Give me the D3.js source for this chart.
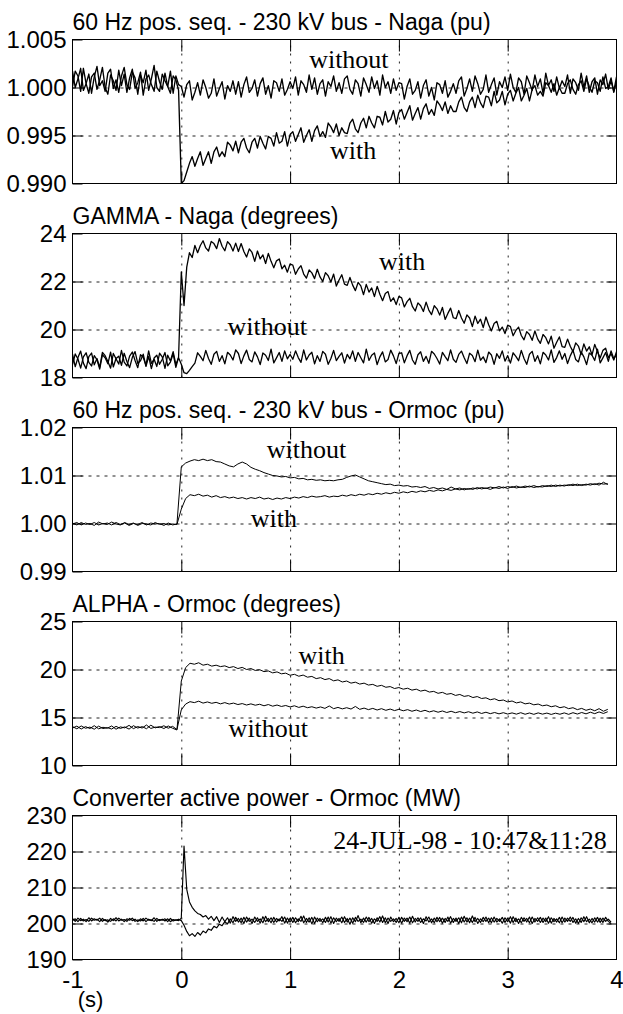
<!DOCTYPE html>
<html>
<head>
<meta charset="utf-8">
<script src="https://cdn.jsdelivr.net/npm/d3@7"></script>
<style>
  body { margin: 0; background: #fff; }
  svg { display: block; }
  .title { font-family: "Liberation Sans", Arial, sans-serif; font-size: 23px; fill: #000; }
  .axis text { font-family: "Liberation Sans", Arial, sans-serif; font-size: 24px; fill: #000; }
  .note { font-family: "Liberation Serif", "Times New Roman", serif; font-size: 26px; fill: #000; }
</style>
</head>
<body>
<script>
// time axis (s): every trace starts at -1 s, sampled at a fixed step
const T_START = -1;
const timeTicks = [-1, 0, 1, 2, 3, 4];

// 60 Hz pos. seq. - 230 kV bus - Naga (pu), step 0.025 s
const nagaTicks = [0.990, 0.995, 1.000, 1.005];
const nagaWithout = [
  1.0017, 1.0000, 1.0009, 1.0020, 0.9997, 1.0004, 1.0014, 0.9994, 1.0011, 1.0022,
  1.0002, 1.0007, 0.9996, 1.0015, 1.0019, 0.9999, 1.0008, 0.9995, 1.0012, 1.0021,
  1.0003, 0.9998, 1.0016, 1.0010, 0.9993, 1.0013, 1.0005, 1.0018, 0.9997, 1.0009,
  1.0023, 1.0000, 0.9996, 1.0014, 1.0007, 1.0001, 1.0017, 0.9994, 1.0012, 1.0003,
  1.0001,
  0.9990, 1.0003, 1.0007, 0.9987, 0.9995, 1.0005, 0.9992, 1.0008, 1.0000, 0.9989, 0.9994, 1.0009, 0.9991, 0.9999, 1.0006, 0.9988, 1.0002, 0.9996, 1.0007, 0.9993,
  1.0006, 0.9990, 1.0003, 1.0011, 0.9995, 0.9999, 1.0008, 0.9991, 1.0004, 1.0010, 0.9993, 1.0002, 0.9989, 1.0007, 1.0005, 0.9996, 1.0009, 0.9992, 0.9998, 1.0006,
  0.9999, 1.0011, 0.9992, 1.0007, 1.0003, 0.9995, 1.0013, 0.9998, 1.0010, 0.9993, 1.0004, 1.0008, 0.9991, 1.0006, 1.0001, 1.0012, 0.9996, 1.0005, 0.9994, 1.0009,
  1.0012, 0.9998, 0.9993, 1.0008, 1.0004, 0.9991, 1.0010, 1.0003, 0.9995, 1.0011, 0.9999, 1.0007, 0.9992, 1.0013, 1.0000, 1.0006, 0.9994, 1.0009, 0.9997, 1.0005,
  1.0004, 0.9988, 1.0001, 1.0009, 0.9993, 0.9997, 1.0006, 0.9989, 1.0002, 1.0008, 0.9991, 1.0000, 0.9987, 1.0005, 1.0003, 0.9994, 1.0007, 0.9990, 0.9996, 1.0004,
  0.9994, 1.0007, 1.0011, 0.9991, 0.9999, 1.0009, 0.9996, 1.0012, 1.0004, 0.9993, 0.9998, 1.0013, 0.9995, 1.0003, 1.0010, 0.9992, 1.0006, 1.0000, 1.0011, 0.9997,
  1.0014, 1.0000, 0.9995, 1.0010, 1.0006, 0.9993, 1.0012, 1.0005, 0.9997, 1.0013, 1.0001, 1.0009, 0.9994, 1.0015, 1.0002, 1.0008, 0.9996, 1.0011, 0.9999, 1.0007,
  1.0001, 1.0013, 0.9994, 1.0009, 1.0005, 0.9997, 1.0015, 1.0000, 1.0012, 0.9995, 1.0006, 1.0010, 0.9993, 1.0008, 1.0003, 1.0014, 0.9998, 1.0007, 0.9996, 1.0011
];
const nagaWith = [
  1.0001, 1.0017, 1.0012, 0.9996, 1.0020, 1.0004, 0.9994, 1.0011, 1.0015, 0.9998,
  1.0008, 1.0021, 1.0000, 0.9993, 1.0013, 1.0007, 0.9997, 1.0018, 1.0002, 1.0014,
  0.9995, 1.0010, 1.0019, 0.9999, 1.0005, 1.0016, 0.9992, 1.0009, 1.0013, 1.0003,
  0.9996, 1.0017, 1.0006, 0.9998, 1.0015, 1.0001, 0.9994, 1.0012, 1.0008, 0.9997,
  0.9900, 0.9903, 0.9912, 0.9921,
  0.9928, 0.9918, 0.9926, 0.9933, 0.9919, 0.9926, 0.9933, 0.9921, 0.9933, 0.9938, 0.9928, 0.9933, 0.9928, 0.9943, 0.9940, 0.9934, 0.9944,
  0.9932, 0.9943, 0.9947, 0.9937, 0.9932, 0.9943, 0.9947, 0.9937, 0.9949, 0.9942, 0.9936, 0.9949, 0.9947, 0.9939, 0.9953, 0.9942, 0.9944, 0.9954, 0.9939, 0.9951,
  0.9954, 0.9944, 0.9951, 0.9958, 0.9943, 0.9950, 0.9956, 0.9944, 0.9955, 0.9960, 0.9949, 0.9954, 0.9948, 0.9963, 0.9959, 0.9953, 0.9962, 0.9950, 0.9958, 0.9953,
  0.9952, 0.9963, 0.9967, 0.9957, 0.9953, 0.9963, 0.9968, 0.9958, 0.9970, 0.9963, 0.9958, 0.9970, 0.9969, 0.9961, 0.9975, 0.9964, 0.9967, 0.9976, 0.9962, 0.9974,
  0.9977, 0.9967, 0.9974, 0.9981, 0.9966, 0.9973, 0.9979, 0.9967, 0.9978, 0.9983, 0.9972, 0.9977, 0.9971, 0.9986, 0.9982, 0.9976, 0.9985, 0.9973, 0.9981, 0.9975,
  0.9975, 0.9985, 0.9990, 0.9979, 0.9975, 0.9985, 0.9990, 0.9979, 0.9992, 0.9984, 0.9979, 0.9991, 0.9990, 0.9981, 0.9996, 0.9984, 0.9987, 0.9996, 0.9982, 0.9993,
  0.9997, 0.9986, 0.9994, 1.0000, 0.9986, 0.9992, 0.9999, 0.9986, 0.9998, 1.0002, 0.9992, 0.9996, 0.9991, 1.0005, 1.0002, 0.9995, 1.0004, 0.9992, 1.0000, 0.9994,
  0.9994, 1.0004, 1.0008, 0.9998, 0.9993, 1.0003, 1.0007, 0.9996, 1.0009, 1.0001, 0.9995, 1.0007, 1.0005, 0.9996, 1.0011, 0.9999, 1.0001, 1.0010, 0.9995, 1.0006
];
const nagaNotes = [
  { text: 'without', t: 1.54, v: 1.0020 },
  { text: 'with', t: 1.58, v: 0.99252 }
];

// GAMMA - Naga (degrees), step 0.025 s
const gammaTicks = [18, 20, 22, 24];
const gammaWithout = [
  18.97, 18.45, 18.83, 19.10, 18.60, 18.37, 18.87, 19.02, 18.53, 18.79,
  18.42, 19.05, 18.91, 18.67, 18.39, 19.00, 18.78, 18.56, 19.13, 18.64,
  18.48, 18.89, 19.06, 18.71, 18.41, 18.95, 18.84, 18.51, 19.11, 18.59,
  18.76, 18.46, 19.01, 18.86, 18.38, 18.93, 18.69, 19.08, 18.54, 18.82,
  18.55, 18.20, 18.16, 18.30, 18.45,
  18.60, 19.03, 18.88, 18.70, 19.13, 18.79, 18.55, 18.97, 19.09, 18.67, 18.91, 18.57, 19.05, 18.94, 18.73, 19.15,
  19.00, 18.58, 18.90, 19.14, 18.75, 18.65, 19.07, 18.86, 18.54, 19.02, 18.93, 18.71, 19.18, 18.61, 18.82, 19.04, 18.67, 19.11, 18.78, 18.96,
  18.76, 19.11, 18.83, 18.63, 19.15, 18.73, 18.94, 19.05, 18.57, 18.91, 18.67, 19.09, 18.97, 18.55, 18.79, 19.13, 18.70, 18.88, 19.03, 18.60,
  18.96, 18.78, 19.11, 18.67, 19.04, 18.82, 18.61, 19.18, 18.71, 18.93, 19.02, 18.54, 18.86, 19.07, 18.65, 18.75, 19.14, 18.90, 18.58, 19.00,
  19.03, 18.61, 18.91, 19.13, 18.73, 18.55, 18.95, 19.07, 18.67, 18.88, 18.59, 19.09, 18.98, 18.79, 18.56, 19.05, 18.87, 18.70, 19.15, 18.76,
  18.63, 18.96, 19.10, 18.82, 18.58, 19.01, 18.92, 18.66, 19.14, 18.72, 18.86, 18.62, 19.06, 18.94, 18.55, 18.99, 18.80, 19.11, 18.68, 18.91,
  18.60, 19.03, 18.88, 18.70, 19.13, 18.79, 18.55, 18.97, 19.09, 18.67, 18.91, 18.57, 19.05, 18.94, 18.73, 19.15, 18.63, 18.83, 19.11, 18.76,
  19.00, 18.58, 18.90, 19.14, 18.75, 18.65, 19.07, 18.86, 18.54, 19.02, 18.93, 18.71, 19.18, 18.61, 18.82, 19.04, 18.67, 19.11, 18.78, 18.96
];
const gammaWith = [
  18.54, 18.98, 18.77, 18.39, 18.86, 19.03, 18.63, 18.48, 18.91, 18.74,
  18.35, 18.95, 18.82, 18.57, 19.06, 18.44, 18.79, 18.89, 18.51, 19.01,
  18.67, 18.41, 18.84, 19.08, 18.59, 18.70, 18.97, 18.46, 18.88, 18.37,
  18.81, 18.93, 18.55, 18.76, 19.04, 18.49, 18.64, 18.99, 18.42, 18.85,
  22.40, 21.00, 22.60, 23.20, 23.00,
  23.50, 23.20, 23.50, 23.70, 23.40, 23.27, 23.67, 23.58, 23.37, 23.79, 23.47, 23.28, 23.66, 23.53, 23.27, 23.60,
  23.25, 23.58, 23.25, 23.02, 23.36, 23.21, 22.84, 23.27, 22.94, 23.11, 22.75, 23.17, 22.84, 22.57, 22.86, 22.94, 22.53, 22.68, 22.39, 22.73,
  22.68, 22.30, 22.52, 22.66, 22.31, 22.14, 22.48, 22.36, 22.12, 22.51, 22.19, 22.00, 22.37, 22.24, 21.98, 22.31, 21.81, 22.06, 22.28, 21.89,
  21.84, 22.17, 21.85, 21.62, 21.96, 21.82, 21.45, 21.88, 21.56, 21.73, 21.37, 21.80, 21.47, 21.20, 21.50, 21.58, 21.17, 21.32, 21.04, 21.38,
  21.32, 20.94, 21.16, 21.30, 20.95, 20.77, 21.11, 20.99, 20.75, 21.14, 20.81, 20.62, 20.99, 20.86, 20.60, 20.92, 20.42, 20.67, 20.89, 20.49,
  20.45, 20.79, 20.48, 20.26, 20.61, 20.48, 20.12, 20.56, 20.25, 20.43, 20.08, 20.52, 20.20, 19.94, 20.25, 20.34, 19.94, 20.10, 19.83, 20.18,
  20.12, 19.74, 19.96, 20.10, 19.75, 19.57, 19.91, 19.79, 19.55, 19.94, 19.61, 19.42, 19.79, 19.66, 19.40, 19.72, 19.22, 19.47, 19.69, 19.29,
  19.26, 19.60, 19.30, 19.08, 19.44, 19.31, 18.96, 19.40, 19.10, 19.28, 18.94, 19.38, 19.07, 18.81, 19.13, 19.22, 18.83, 18.99, 18.73, 19.08
];
const gammaNotes = [
  { text: 'with', t: 2.03, v: 22.47 },
  { text: 'without', t: 0.79, v: 19.79 }
];

// 60 Hz pos. seq. - 230 kV bus - Ormoc (pu), step 0.04 s
const ormocTicks = [0.99, 1.00, 1.01, 1.02];
const ormocWithout = [
  1.0001, 0.9997, 1.0002, 0.9998, 1.0000, 0.9996, 1.0003, 0.9999, 1.0001, 0.9997,
  1.0002, 0.9998, 1.0001, 0.9996, 1.0000, 0.9998, 1.0002, 0.9997, 1.0001, 0.9999,
  1.0000, 0.9996, 1.0001, 0.9997, 0.9999,
  1.0118, 1.0126, 1.0130, 1.0133, 1.0131, 1.0134, 1.0131, 1.0133, 1.0129, 1.0128,
  1.0124, 1.0120, 1.0118, 1.0124, 1.0128, 1.0124, 1.0117, 1.0113, 1.0110, 1.0106,
  1.0103, 1.0100, 1.0099, 1.0097, 1.0098, 1.0095, 1.0096, 1.0093, 1.0094, 1.0091,
  1.0092, 1.0090, 1.0091, 1.0089, 1.0090, 1.0089, 1.0091, 1.0092, 1.0096, 1.0099,
  1.0101, 1.0097, 1.0093, 1.0089, 1.0087, 1.0085, 1.0083, 1.0081, 1.0082, 1.0079,
  1.0080, 1.0078, 1.0079, 1.0076, 1.0077, 1.0075, 1.0077, 1.0073, 1.0075, 1.0072,
  1.0074, 1.0071, 1.0076, 1.0072, 1.0074, 1.0070, 1.0073, 1.0071, 1.0075, 1.0072,
  1.0074, 1.0071, 1.0075, 1.0073, 1.0076, 1.0073, 1.0077, 1.0074, 1.0076, 1.0075,
  1.0078, 1.0075, 1.0077, 1.0076, 1.0079, 1.0077, 1.0080, 1.0078, 1.0080, 1.0079,
  1.0082, 1.0079, 1.0081, 1.0080, 1.0083, 1.0081, 1.0084, 1.0082, 1.0083
];
const ormocWith = [
  0.9999, 1.0002, 0.9997, 1.0001, 0.9998, 1.0002, 0.9997, 1.0000, 0.9998, 1.0003,
  0.9999, 0.9997, 1.0002, 0.9998, 1.0001, 0.9996, 1.0000, 0.9999, 0.9997, 1.0002,
  0.9998, 1.0000, 0.9997, 0.9999, 0.9998,
  1.0030, 1.0052, 1.0060, 1.0058, 1.0061, 1.0057, 1.0059, 1.0055, 1.0058, 1.0054,
  1.0056, 1.0053, 1.0055, 1.0052, 1.0054, 1.0051, 1.0054, 1.0052, 1.0055, 1.0051,
  1.0053, 1.0050, 1.0053, 1.0051, 1.0054, 1.0052, 1.0055, 1.0053, 1.0056, 1.0054,
  1.0057, 1.0055, 1.0056, 1.0058, 1.0055, 1.0057, 1.0056, 1.0059, 1.0057, 1.0060,
  1.0058, 1.0061, 1.0059, 1.0062, 1.0060, 1.0063, 1.0061, 1.0064, 1.0062, 1.0065,
  1.0063, 1.0066, 1.0064, 1.0067, 1.0065, 1.0068, 1.0066, 1.0069, 1.0067, 1.0070,
  1.0068, 1.0071, 1.0069, 1.0072, 1.0070, 1.0073, 1.0071, 1.0074, 1.0072, 1.0075,
  1.0073, 1.0076, 1.0074, 1.0077, 1.0074, 1.0077, 1.0075, 1.0078, 1.0075, 1.0078,
  1.0076, 1.0079, 1.0076, 1.0079, 1.0077, 1.0080, 1.0077, 1.0080, 1.0078, 1.0081,
  1.0079, 1.0082, 1.0079, 1.0082, 1.0080, 1.0083, 1.0080, 1.0086, 1.0081
];
const ormocNotes = [
  { text: 'without', t: 1.15, v: 1.0137 },
  { text: 'with', t: 0.85, v: 0.9993 }
];

// ALPHA - Ormoc (degrees), step 0.04 s
const alphaTicks = [10, 15, 20, 25];
const alphaWith = [
  14.05, 13.82, 14.12, 13.88, 14.00, 13.78, 14.10, 13.85, 13.95, 13.80,
  14.08, 13.86, 14.02, 13.79, 14.15, 13.90, 14.05, 13.83, 14.20, 13.92,
  14.06, 13.85, 14.12, 13.88, 13.70,
  18.80, 20.20, 20.65, 20.55, 20.70, 20.45, 20.55, 20.35, 20.45, 20.30,
  20.38, 20.20, 20.30, 20.10, 20.22, 20.00, 20.10, 19.90, 19.98, 19.78,
  19.85, 19.65, 19.75, 19.55, 19.62, 19.40, 19.50, 19.30, 19.42, 19.20,
  19.28, 19.05, 19.15, 18.95, 19.05, 18.82, 18.92, 18.70, 18.80, 18.58,
  18.68, 18.48, 18.58, 18.38, 18.45, 18.25, 18.35, 18.15, 18.22, 18.02,
  18.12, 17.95, 18.05, 17.85, 17.95, 17.75, 17.85, 17.65, 17.72, 17.52,
  17.62, 17.42, 17.50, 17.30, 17.40, 17.20, 17.28, 17.08, 17.18, 16.98,
  17.05, 16.85, 16.95, 16.75, 16.82, 16.62, 16.72, 16.52, 16.62, 16.42,
  16.50, 16.32, 16.40, 16.22, 16.30, 16.12, 16.22, 16.02, 16.12, 15.92,
  16.02, 15.82, 15.95, 15.75, 15.88, 15.70, 15.92, 15.65, 15.85
];
const alphaWithout = [
  13.90, 14.10, 13.80, 14.05, 13.85, 14.15, 13.82, 13.98, 13.88, 14.12,
  13.78, 14.02, 13.92, 14.18, 13.84, 14.06, 13.90, 14.22, 13.86, 14.00,
  13.95, 14.14, 13.88, 14.08, 13.75,
  15.80, 16.40, 16.65, 16.55, 16.70, 16.50, 16.62, 16.48, 16.58, 16.42,
  16.55, 16.40, 16.50, 16.35, 16.45, 16.30, 16.42, 16.28, 16.38, 16.22,
  16.35, 16.18, 16.30, 16.15, 16.25, 16.10, 16.22, 16.05, 16.18, 16.02,
  16.12, 15.98, 16.10, 15.95, 16.20, 15.92, 16.05, 15.90, 16.02, 15.88,
  16.15, 15.85, 15.98, 15.82, 15.95, 15.78, 15.92, 15.75, 15.88, 15.72,
  15.85, 15.70, 15.82, 15.65, 15.78, 15.62, 15.75, 15.58, 15.70, 15.55,
  15.68, 15.52, 15.65, 15.50, 15.62, 15.48, 15.60, 15.45, 15.58, 15.42,
  15.55, 15.40, 15.52, 15.38, 15.50, 15.36, 15.48, 15.35, 15.50, 15.34,
  15.47, 15.33, 15.48, 15.35, 15.46, 15.32, 15.45, 15.34, 15.48, 15.33,
  15.50, 15.36, 15.52, 15.38, 15.55, 15.40, 15.58, 15.42, 15.60
];
const alphaNotes = [
  { text: 'with', t: 1.29, v: 20.54 },
  { text: 'without', t: 0.80, v: 13.0 }
];

// Converter active power - Ormoc (MW), step 0.025 s
const powerTicks = [190, 200, 210, 220, 230];
const powerA = [
  201.4, 200.6, 201.5, 200.8, 201.2, 200.5, 201.6, 200.7, 201.3, 200.9,
  201.5, 200.6, 201.1, 200.4, 201.4, 200.8, 201.6, 200.7, 201.2, 200.5,
  201.3, 200.9, 201.5, 200.6, 201.0, 200.7, 201.4, 200.5, 201.2, 200.8,
  201.6, 200.6, 201.1, 200.9, 201.3, 200.5, 201.4, 200.7, 201.0, 200.8,
  201.5, 221.5, 209.5, 206.0, 204.5, 203.5, 202.8, 202.5, 201.8, 202.2, 201.2, 202.0, 200.8, 201.9,
  200.3, 201.8, 200.5, 201.6, 200.1, 201.9, 200.6, 201.4, 200.2, 201.7, 200.4, 201.5, 200.0, 201.8, 200.6, 201.3, 200.2, 202.0, 200.5, 201.6,
  200.3, 201.4, 200.7, 201.9, 200.1, 201.5, 200.4, 201.7, 200.2, 201.3, 200.6, 202.1, 200.3, 201.6, 199.9, 201.8, 200.5, 201.4, 200.2, 201.7,
  200.4, 201.9, 200.0, 201.5, 200.6, 201.8, 200.3, 201.4, 199.8, 201.6, 200.5, 202.2, 200.2, 201.5, 200.4, 201.7, 200.1, 201.3, 200.6, 201.9,
  200.3, 201.6, 200.0, 201.8, 200.5, 201.4, 200.2, 201.7, 200.6, 201.5, 200.1, 202.0, 200.4, 201.6, 200.3, 201.3, 200.7, 201.8, 200.2, 201.5,
  200.5, 201.7, 200.1, 201.4, 200.6, 201.9, 200.3, 201.5, 200.0, 201.8, 200.4, 201.6, 200.2, 202.1, 200.5, 201.4, 200.3, 201.7, 200.6, 201.5,
  200.2, 201.8, 200.4, 201.3, 200.1, 201.6, 200.5, 201.9, 200.3, 201.5, 200.0, 201.7, 200.6, 201.4, 200.2, 201.8, 200.4, 201.6, 200.3, 201.5,
  200.5, 201.9, 200.1, 201.4, 200.4, 201.7, 200.2, 201.5, 200.6, 201.8, 200.3, 201.3, 200.0, 201.6, 200.5, 201.9, 200.2, 201.4, 200.4, 201.7,
  200.3, 201.5, 200.6, 201.2, 200.4
];
const powerB = [
  200.8, 201.3, 200.5, 201.4, 200.7, 201.1, 200.6, 201.5, 200.9, 201.2,
  200.5, 201.4, 200.8, 201.0, 200.6, 201.3, 200.7, 201.5, 200.9, 201.1,
  200.6, 201.4, 200.8, 201.2, 200.5, 201.3, 200.7, 201.5, 200.9, 201.0,
  200.6, 201.4, 200.8, 201.2, 200.7, 201.3, 200.5, 201.1, 200.9, 201.2,
  200.8, 199.5, 197.8, 196.6, 197.2, 196.4, 197.5, 196.8, 197.9, 197.4, 198.5, 198.1, 199.2, 198.8, 199.8, 199.4, 200.5, 199.9,
  201.3, 200.2, 201.7, 200.4, 201.5, 200.0, 201.8, 200.6, 201.2, 200.3, 201.6, 200.1, 201.9, 200.5, 201.4, 200.2, 201.7, 200.4, 201.3, 200.6,
  201.8, 200.1, 201.5, 200.3, 201.6, 200.5, 202.0, 200.2, 201.4, 200.4, 201.7, 200.0, 201.5, 200.6, 201.3, 200.3, 201.8, 200.1, 201.6, 200.5,
  201.4, 200.2, 201.9, 200.4, 201.5, 200.1, 201.7, 200.6, 201.2, 200.3, 201.8, 200.5, 201.4, 200.0, 201.6, 200.4, 202.1, 200.2, 201.5, 200.6,
  201.3, 200.3, 201.7, 200.1, 201.5, 200.5, 201.8, 200.2, 201.4, 200.6, 201.6, 200.0, 201.9, 200.4, 201.3, 200.2, 201.7, 200.5, 201.5, 200.3,
  201.8, 200.1, 201.4, 200.6, 201.6, 200.2, 202.0, 200.4, 201.5, 200.3, 201.7, 200.0, 201.3, 200.5, 201.8, 200.2, 201.6, 200.4, 201.4, 200.6,
  201.7, 200.3, 201.5, 200.1, 201.9, 200.5, 201.3, 200.2, 201.6, 200.4, 201.8, 200.0, 201.4, 200.6, 201.7, 200.3, 201.5, 200.1, 201.6, 200.5,
  201.3, 200.2, 201.8, 200.4, 201.5, 200.6, 201.7, 200.1, 201.4, 200.3, 201.9, 200.5, 201.2, 200.2, 201.6, 200.4, 201.5, 200.3, 201.7, 200.6,
  200.0
];
const powerNotes = [
  { text: '24-JUL-98 - 10:47&11:28', t: 3.91, v: 220.6, anchor: 'end' }
];

// one entry per stacked panel; noisier recordings get a heavier pen
var panels = [
  { title: '60 Hz pos. seq. - 230 kV bus - Naga (pu)', ticks: nagaTicks, fmt: '.3f', dt: 0.025, pen: 1.35, series: [nagaWithout, nagaWith], notes: nagaNotes },
  { title: 'GAMMA - Naga (degrees)', ticks: gammaTicks, fmt: 'd', dt: 0.025, pen: 1.3, series: [gammaWithout, gammaWith], notes: gammaNotes },
  { title: '60 Hz pos. seq. - 230 kV bus - Ormoc (pu)', ticks: ormocTicks, fmt: '.2f', dt: 0.04, pen: 1, series: [ormocWithout, ormocWith], notes: ormocNotes },
  { title: 'ALPHA - Ormoc (degrees)', ticks: alphaTicks, fmt: 'd', dt: 0.04, pen: 1, series: [alphaWith, alphaWithout], notes: alphaNotes },
  { title: 'Converter active power - Ormoc (MW)', ticks: powerTicks, fmt: 'd', dt: 0.025, pen: 1.15, series: [powerA, powerB], notes: powerNotes }
];

var svgWidth = 623;
var svgHeight = 1014;
var plotLeft = 72;
var plotWidth = 544;
var plotHeight = 144;
var panelTops = [39, 233, 427, 621, 815];

var svg = d3.select('body').append('svg')
  .attr('width', svgWidth)
  .attr('height', svgHeight);

var x = d3.scaleLinear().domain([timeTicks[0], timeTicks[timeTicks.length - 1]]).range([0, plotWidth]);
var innerTime = timeTicks.slice(1, -1);

// plain hyphen for negative numbers, like the original print
function plainFormat(spec) {
  var f = d3.format(spec);
  return function(d) { return f(d).replace('\u2212', '-'); };
}

panels.forEach(function(p, k) {
  var last = k === panels.length - 1;
  var y = d3.scaleLinear().domain([p.ticks[0], p.ticks[p.ticks.length - 1]]).range([plotHeight, 0]);
  var innerTicks = p.ticks.slice(1, -1);

  var g = svg.append('g')
    .attr('transform', 'translate(' + (plotLeft + 0.5) + ',' + (panelTops[k] + 0.5) + ')');

  // dotted grid
  g.append('g')
    .attr('class', 'grid')
    .call(d3.axisLeft(y).tickValues(innerTicks).tickSize(-plotWidth).tickFormat(''))
    .call(function(s) { s.select('.domain').remove(); })
    .selectAll('line')
    .attr('stroke', '#222')
    .attr('stroke-dasharray', '3,5');

  g.append('g')
    .attr('class', 'grid')
    .attr('transform', 'translate(0,' + plotHeight + ')')
    .call(d3.axisBottom(x).tickValues(innerTime).tickSize(-plotHeight).tickFormat(''))
    .call(function(s) { s.select('.domain').remove(); })
    .selectAll('line')
    .attr('stroke', '#222')
    .attr('stroke-dasharray', '2,6');

  // y labels plus short solid ticks inside the frame
  g.append('g')
    .attr('class', 'axis')
    .call(d3.axisLeft(y).tickValues(p.ticks).tickSize(-10).tickPadding(6).tickFormat(d3.format(p.fmt)))
    .call(function(s) { s.select('.domain').remove(); });

  g.append('g')
    .attr('transform', 'translate(' + plotWidth + ',0)')
    .call(d3.axisRight(y).tickValues(innerTicks).tickSize(-10).tickFormat(''))
    .call(function(s) { s.select('.domain').remove(); });

  g.append('g')
    .call(d3.axisTop(x).tickValues(innerTime).tickSize(-12).tickFormat(''))
    .call(function(s) { s.select('.domain').remove(); });

  g.append('g')
    .attr('transform', 'translate(0,' + plotHeight + ')')
    .call(d3.axisBottom(x).tickValues(innerTime).tickSize(-12).tickFormat(''))
    .call(function(s) { s.select('.domain').remove(); });

  // time labels only under the last panel
  if (last) {
    g.append('g')
      .attr('class', 'axis')
      .attr('transform', 'translate(0,' + plotHeight + ')')
      .call(d3.axisBottom(x).tickValues(timeTicks).tickSize(0).tickPadding(11).tickFormat(plainFormat('d')))
      .call(function(s) { s.select('.domain').remove(); });
  }

  // traces
  g.append('clipPath')
    .attr('id', 'clip' + k)
    .append('rect')
    .attr('width', plotWidth)
    .attr('height', plotHeight);

  var line = d3.line()
    .x(function(d, i) { return x(T_START + i * p.dt); })
    .y(function(d) { return y(d); });

  g.selectAll('path.trace')
    .data(p.series)
    .enter()
    .append('path')
    .attr('class', 'trace')
    .attr('clip-path', 'url(#clip' + k + ')')
    .attr('fill', 'none')
    .attr('stroke', '#000')
    .attr('stroke-width', p.pen)
    .attr('stroke-linejoin', 'round')
    .attr('d', line);

  // frame
  g.append('rect')
    .attr('width', plotWidth)
    .attr('height', plotHeight)
    .attr('fill', 'none')
    .attr('stroke', '#000');

  // title above the frame
  g.append('text')
    .attr('class', 'title')
    .attr('x', 0)
    .attr('y', -10)
    .text(p.title);

  // curve labels
  g.selectAll('text.note')
    .data(p.notes)
    .enter()
    .append('text')
    .attr('class', 'note')
    .attr('x', function(d) { return x(d.t); })
    .attr('y', function(d) { return y(d.v); })
    .style('text-anchor', function(d) { return d.anchor || 'middle'; })
    .text(function(d) { return d.text; });

  // unit of the time axis
  if (last) {
    g.append('text')
      .attr('class', 'title')
      .style('font-size', '22px')
      .attr('x', 18)
      .attr('y', plotHeight + 47)
      .style('text-anchor', 'middle')
      .text('(s)');
  }
});
</script>
</body>
</html>
